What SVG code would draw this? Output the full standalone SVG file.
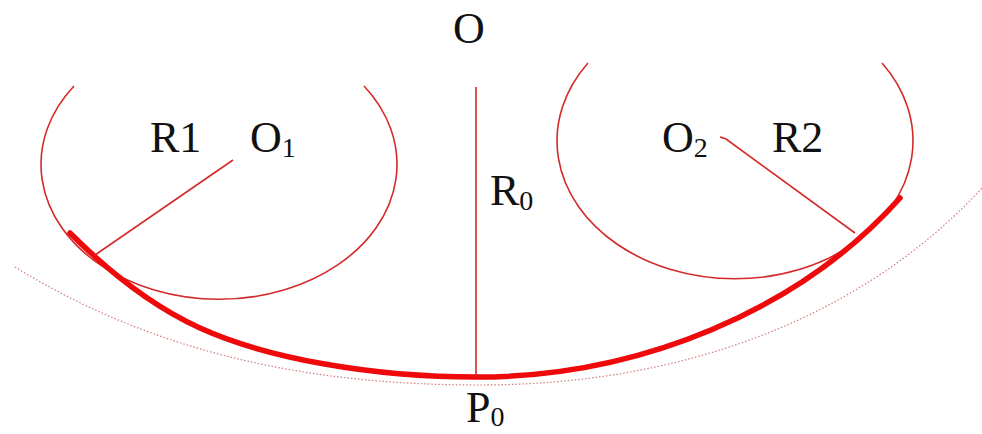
<svg xmlns="http://www.w3.org/2000/svg" width="982" height="434" viewBox="0 0 982 434">
<style>
.thin{fill:none;stroke:#d42a2a;stroke-width:1.6}
.thick{fill:none;stroke:#ee0a0a;stroke-width:5.5;stroke-linecap:round}
.dot{fill:none;stroke:#c85a5a;stroke-width:1.2;stroke-dasharray:1.5 2;opacity:0.8}
.lbl{font-family:'Liberation Serif','Times New Roman',serif;font-size:44px;fill:#111}
.sub{font-size:28px}
</style>
<rect width="982" height="434" fill="#fff"/>
<g id="circle1">
<path class="thin" d="M 74 86 A 178 135 0 1 0 364 86"/>
<text class="lbl" x="150" y="152">R1</text>
<text class="lbl" x="250" y="152">O<tspan class="sub" dy="5">1</tspan></text>
</g>
<g id="circle2">
<path class="thin" d="M 588 63 A 178 138 0 1 0 882 63"/>
<text class="lbl" x="662" y="152">O<tspan class="sub" dy="5">2</tspan></text>
<text class="lbl" x="772" y="152">R2</text>
</g>
<g id="center">
<text class="lbl" x="453" y="43" font-size="46">O</text>
<text class="lbl" x="490" y="205">R<tspan class="sub" dy="5">0</tspan></text>
</g>
<g id="p0">
<text class="lbl" x="466" y="422">P<tspan class="sub" dy="4">0</tspan></text>
</g>
<g id="connectors">
<path class="dot" d="M 15 267 C 150 350 300 385 480 385 C 680 385 860 320 982 188"/>
<path class="thick" d="M 70 233 C 100 263 145 303 200 328 C 266 358 370 377 477 377 C 640 377 800 310 900 198"/>
<line class="thin" x1="476" y1="87" x2="476" y2="377"/>
<line class="thin" x1="233" y1="160" x2="95" y2="255"/>
<path class="thin" d="M 720 137 L 726 139 L 855 233"/>
</g>
</svg>
